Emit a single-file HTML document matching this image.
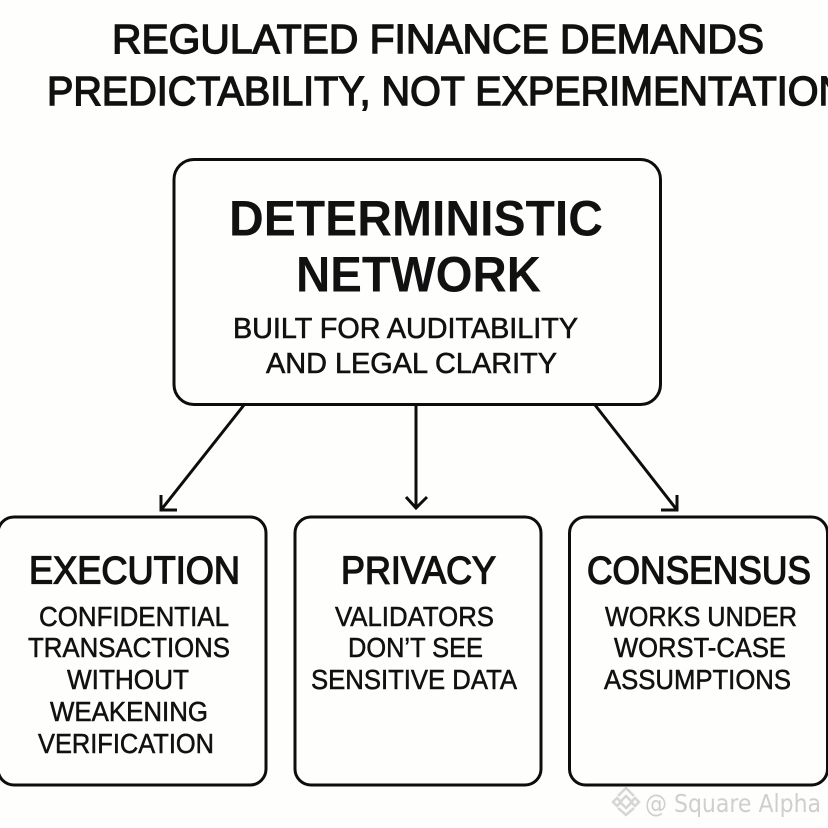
<!DOCTYPE html>
<html><head><meta charset="utf-8"><style>
html,body{margin:0;padding:0;background:#fefefc;width:828px;height:828px;overflow:hidden}
svg{display:block}
text{font-family:"Liberation Sans",sans-serif;fill:#111;stroke:#111}
.t{font-size:41px;stroke-width:1.4px}
.h{font-size:50px;font-weight:bold;stroke-width:0}
.s{font-size:29px;stroke-width:.6px}
.c{font-size:38.5px;stroke-width:1.3px}
.b{font-size:28px;stroke-width:.55px}
rect,path{fill:none;stroke:#0d0d0d;stroke-width:3}
</style></head><body>
<svg width="828" height="828" viewBox="0 0 828 828" xmlns="http://www.w3.org/2000/svg">
<text class="t" x="112" y="53" textLength="652" lengthAdjust="spacingAndGlyphs">REGULATED FINANCE DEMANDS</text>
<text class="t" x="47" y="105" textLength="800" lengthAdjust="spacingAndGlyphs">PREDICTABILITY, NOT EXPERIMENTATION</text>

<rect x="174" y="159.500" width="486.500" height="245" rx="20"/>
<text class="h" x="229" y="235.500" textLength="374" lengthAdjust="spacingAndGlyphs">DETERMINISTIC</text>
<text class="h" x="296" y="291.500" textLength="245" lengthAdjust="spacingAndGlyphs">NETWORK</text>
<text class="s" x="233" y="338" textLength="345" lengthAdjust="spacingAndGlyphs">BUILT FOR AUDITABILITY</text>
<text class="s" x="266" y="373" textLength="291" lengthAdjust="spacingAndGlyphs">AND LEGAL CLARITY</text>

<path d="M244 405L161 510M161 495V510H177"/>
<path d="M416 405V508M406 497L416 508L427 497"/>
<path d="M595 405L677 510M677 495V510H661"/>

<rect x="-2" y="517" width="268" height="268" rx="16"/>
<rect x="295" y="517" width="246" height="268" rx="16"/>
<rect x="569.500" y="517" width="258" height="268" rx="16"/>

<text class="c" x="29" y="583.500" textLength="211" lengthAdjust="spacingAndGlyphs">EXECUTION</text>
<text class="c" x="341" y="583.500" textLength="155" lengthAdjust="spacingAndGlyphs">PRIVACY</text>
<text class="c" x="587" y="583.500" textLength="224" lengthAdjust="spacingAndGlyphs">CONSENSUS</text>

<text class="b" x="39" y="626" textLength="190" lengthAdjust="spacingAndGlyphs">CONFIDENTIAL</text>
<text class="b" x="28" y="657" textLength="202" lengthAdjust="spacingAndGlyphs">TRANSACTIONS</text>
<text class="b" x="67" y="689" textLength="122" lengthAdjust="spacingAndGlyphs">WITHOUT</text>
<text class="b" x="50" y="721" textLength="158" lengthAdjust="spacingAndGlyphs">WEAKENING</text>
<text class="b" x="38" y="753" textLength="176" lengthAdjust="spacingAndGlyphs">VERIFICATION</text>

<text class="b" x="335" y="626" textLength="159" lengthAdjust="spacingAndGlyphs">VALIDATORS</text>
<text class="b" x="348" y="657" textLength="135" lengthAdjust="spacingAndGlyphs">DON’T SEE</text>
<text class="b" x="311" y="689" textLength="206" lengthAdjust="spacingAndGlyphs">SENSITIVE DATA</text>

<text class="b" x="605" y="626" textLength="192" lengthAdjust="spacingAndGlyphs">WORKS UNDER</text>
<text class="b" x="614" y="657" textLength="172" lengthAdjust="spacingAndGlyphs">WORST-CASE</text>
<text class="b" x="604" y="689" textLength="187" lengthAdjust="spacingAndGlyphs">ASSUMPTIONS</text>

<path style="stroke:#d6d6d4;stroke-width:2.500" d="M618 796L626 788L634 796M626 796L632 802L626 808L620 802ZM618 808L626 815L634 808M613 802L617 798L621 802L617 806ZM631 802L635 798L639 802L635 806Z"/>
<text x="645" y="812" textLength="176" lengthAdjust="spacingAndGlyphs" style="font-size:25px;fill:#cfcfcd;stroke:none;font-family:'DejaVu Sans',sans-serif">@ Square Alpha</text>
</svg>
</body></html>
